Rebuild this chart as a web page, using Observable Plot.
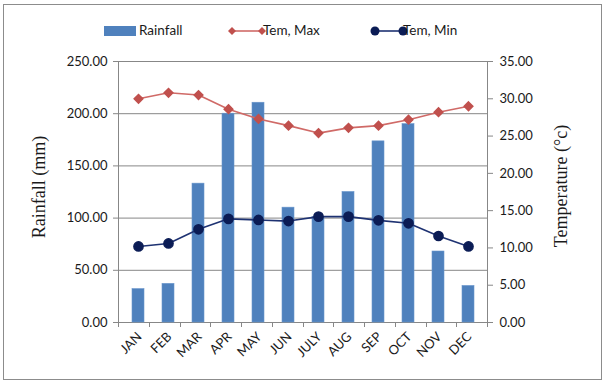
<!DOCTYPE html>
<html>
<head>
<meta charset="utf-8">
<script src="https://cdn.jsdelivr.net/npm/d3@7"></script>
<script src="https://cdn.jsdelivr.net/npm/@observablehq/plot@0.6"></script>
<style>
  html, body { margin: 0; padding: 0; background: #fff; }
  #wrap { position: relative; width: 608px; height: 387px; overflow: hidden; background: #fff; }
  #border { position: absolute; left: 3px; top: 4px; width: 599px; height: 376px; border: 1px solid #8c8c8c; box-sizing: border-box; }
  #chart { position: absolute; left: 0; top: 0; }
  .leg { position: absolute; font: 13.5px Lato, "Open Sans", sans-serif; color: #1a1a1a; line-height: 1; }
</style>
</head>
<body>
<div id="wrap">
  <div id="border"></div>
  <div id="chart"></div>
  <div id="legend"></div>
</div>
<script>
const months = ["JAN","FEB","MAR","APR","MAY","JUN","JULY","AUG","SEP","OCT","NOV","DEC"];
const rainfall = [32, 37, 133, 200, 210.5, 110, 101, 125, 173.5, 190, 68, 35];
const temMax = [30.0, 30.8, 30.5, 28.6, 27.3, 26.4, 25.4, 26.1, 26.4, 27.2, 28.2, 29.0];
const temMin = [10.2, 10.6, 12.5, 13.9, 13.75, 13.6, 14.2, 14.2, 13.7, 13.3, 11.6, 10.2];
const rainTicks = [0, 50, 100, 150, 200, 250];
const tempTicks = [0, 5, 10, 15, 20, 25, 30, 35];
const rainMax = 250, tempMax = 35;

const k = rainMax / tempMax; // temperature -> rainfall axis units
const rows = months.map((m, i) => ({month: m, rain: rainfall[i], tmax: temMax[i] * k, tmin: temMin[i] * k}));

const barColor = "#4f81bd";
const maxColor = "#c0504d";
const minColor = "#0b1c55";
const gridColor = "#878787";
const textColor = "#1a1a1a";

// category boundary ticks below the x axis
function boundaryTicks(index, scales, values, dims) {
  const g = d3.create("svg:g");
  const n = months.length;
  const w = (dims.width - dims.marginLeft - dims.marginRight) / n;
  const y0 = dims.height - dims.marginBottom;
  for (let i = 0; i <= n; i++) {
    const x = Math.round(dims.marginLeft + i * w) + 0.5;
    g.append("line").attr("x1", x).attr("x2", x).attr("y1", y0).attr("y2", y0 + 5)
      .attr("stroke", gridColor).attr("stroke-width", 1);
  }
  return g.node();
}

const chart = Plot.plot({
  width: 608,
  height: 387,
  marginLeft: 118,
  marginRight: 121,
  marginTop: 61,
  marginBottom: 65,
  style: {fontFamily: "Lato, 'Open Sans', sans-serif", fontSize: "13px", color: textColor, background: "transparent"},
  x: {domain: months, paddingInner: 0.6, paddingOuter: 0.3, label: null},
  y: {domain: [0, rainMax], label: null},
  marks: [
    Plot.ruleY(rainTicks, {stroke: gridColor, strokeWidth: 1, strokeOpacity: 1}),
    Plot.frame({stroke: gridColor, strokeWidth: 1}),
    Plot.barY(rows, {x: "month", y: "rain", fill: barColor, stroke: "#6a96cc", strokeWidth: 0.6}),
    Plot.line(rows, {x: "month", y: "tmax", stroke: "#d06a67", strokeWidth: 1.6}),
    Plot.dot(rows, {x: "month", y: "tmax", symbol: "diamond2", r: 3.9, fill: maxColor, stroke: maxColor}),
    Plot.line(rows, {x: "month", y: "tmin", stroke: "#1e3272", strokeWidth: 1.6}),
    Plot.dot(rows, {x: "month", y: "tmin", r: 4.6, fill: minColor, stroke: minColor}),
    Plot.axisY(rainTicks, {anchor: "left", tickSize: 5, tickPadding: 6, stroke: gridColor, tickFormat: d => d.toFixed(2), fill: textColor, fontSize: 13, label: null}),
    Plot.axisY(tempTicks.map(t => t * k), {anchor: "right", tickSize: 5, tickPadding: 7, stroke: gridColor, tickFormat: d => (d / k).toFixed(2), fill: textColor, fontSize: 13, label: null}),
    Plot.axisX({tickSize: 0, tickRotate: -45, tickPadding: 12, dx: 1, fill: textColor, fontSize: 13, label: null}),
    boundaryTicks,
    Plot.text(["Rainfall (mm)"], {frameAnchor: "left", textAnchor: "middle", dx: -79, dy: -5, rotate: -90, fontFamily: "'Liberation Serif', serif", fontSize: 18, fill: textColor, letterSpacing: "0.5px"}),
    Plot.text(["Temperature (°c)"], {frameAnchor: "right", textAnchor: "middle", dx: 74, dy: -6, rotate: -90, fontFamily: "'Liberation Serif', serif", fontSize: 18, fill: textColor})
  ]
});
document.getElementById("chart").appendChild(chart);

// legend
const legend = document.getElementById("legend");
legend.innerHTML = `
  <div style="position:absolute;left:104px;top:26px;width:32px;height:10px;background:${barColor}"></div>
  <div class="leg" style="left:139px;top:24px">Rainfall</div>
  <svg style="position:absolute;left:225px;top:24px" width="42" height="14">
    <line x1="7" x2="37" y1="7" y2="7" stroke="#d06a67" stroke-width="1.6"/>
    <path d="M7,3 L11,7 L7,11 L3,7Z" fill="${maxColor}"/>
    <path d="M37,3 L41,7 L37,11 L33,7Z" fill="${maxColor}"/>
  </svg>
  <div class="leg" style="left:263px;top:24px">Tem, Max</div>
  <svg style="position:absolute;left:368px;top:24px" width="42" height="14">
    <line x1="7" x2="35" y1="7" y2="7" stroke="#1e3272" stroke-width="1.6"/>
    <circle cx="7" cy="7" r="4.5" fill="${minColor}"/>
    <circle cx="35" cy="7" r="4.5" fill="${minColor}"/>
  </svg>
  <div class="leg" style="left:403px;top:24px">Tem, Min</div>
`;
</script>
</body>
</html>
